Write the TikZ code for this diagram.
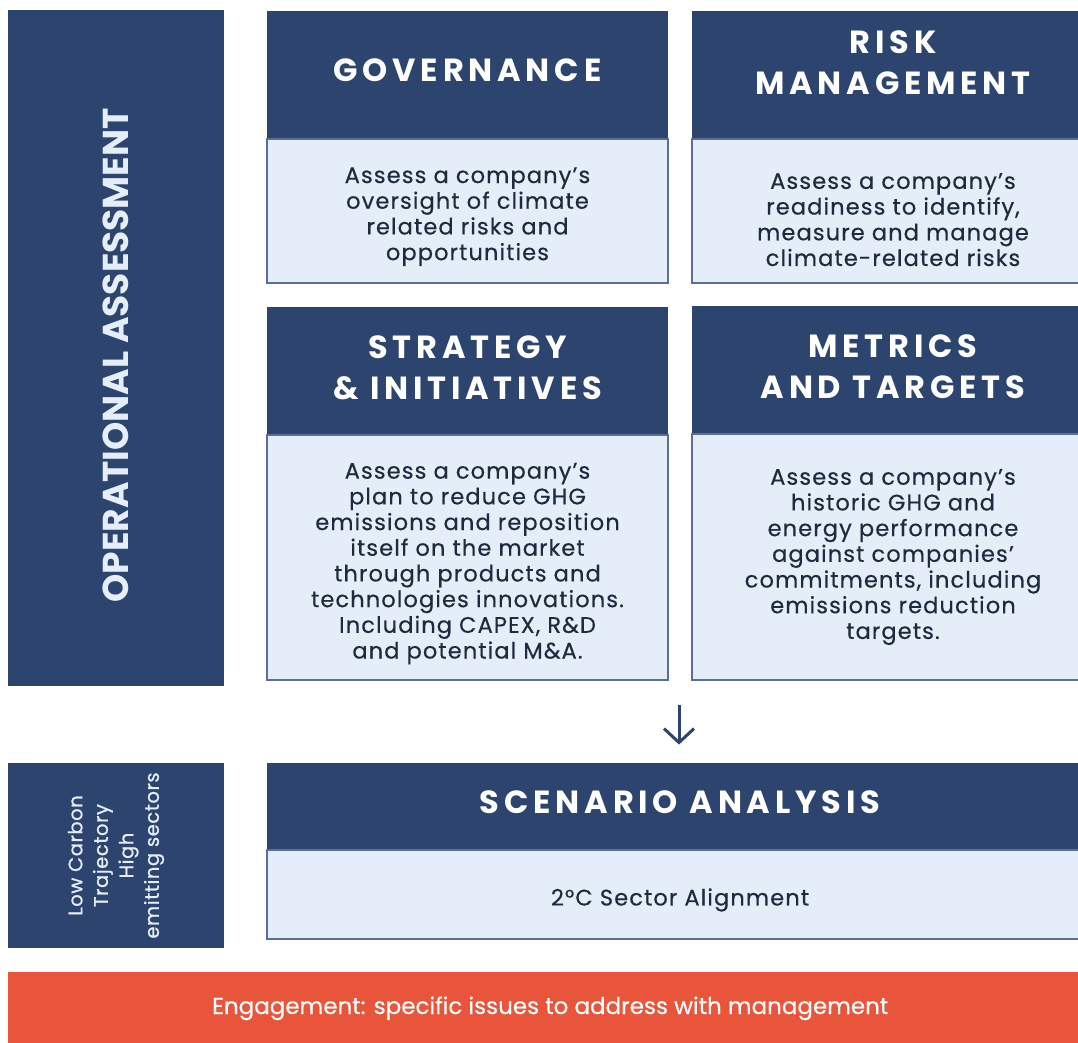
\documentclass[tikz,border=0pt]{standalone}
\usepackage{fontspec}
\setmainfont{Poppins}
\newfontfamily\headfont[LetterSpace=15]{Poppins}
\newfontfamily\sidefont[LetterSpace=3,FakeBold=0.8]{Poppins}
\newfontfamily\bodyfont[LetterSpace=5,FakeBold=0.4]{Poppins}
\newfontfamily\barfont[FakeBold=0.4]{Poppins}
\usetikzlibrary{positioning,arrows.meta}

\definecolor{navy}{HTML}{2C446E}
\definecolor{paleblue}{HTML}{E5EDF8}
\definecolor{edgeblue}{HTML}{5B6F97}
\definecolor{inkblue}{HTML}{1C2B3F}
\definecolor{flame}{HTML}{E8553B}

\tikzset{
  head/.style={fill=navy, text=white, inner sep=0pt, align=center,
    minimum width=#1, minimum height=127pt,
    font=\headfont\bfseries\fontsize{32}{41}\selectfont},
  head/.default=401pt,
  bodybox/.style={fill=paleblue, draw=edgeblue, line width=2pt, text=inkblue,
    inner sep=0pt, align=center, anchor=north west,
    font=\bodyfont\fontsize{22.5}{25.7}\selectfont},
  sidebar/.style={fill=navy, text=paleblue, inner sep=0pt, align=center, rotate=90},
  flow/.style={draw=navy, line width=3pt, -{Straight Barb[length=14pt,width=30pt]}},
}
\newcommand{\lift}[1]{\rule[-#1]{0pt}{0pt}}
\newcommand{\drop}[1]{\rule{0pt}{#1}}

\begin{document}
\begin{tikzpicture}[x=1pt,y=-1pt]
\useasboundingbox (0,0) rectangle (1078,1042);

% left column
\node[sidebar, minimum width=676pt, minimum height=216pt,
  font=\bfseries\fontsize{36}{40}\selectfont] (opcol) at (116,348)
  {\hspace*{-15pt}OPERATIONAL ASSESSMENT};

% top row
\node[bodybox, minimum width=401pt, minimum height=144pt] (govbody) at (266,138)
  {\drop{27pt}Assess a company’s\\oversight of climate\\related risks and\\opportunities};
\node[head, above=0pt of govbody] (govhead) {GOVERNANCE\lift{8pt}};

\node[bodybox, minimum width=402pt, minimum height=144pt] (riskbody) at (691,138)
  {\drop{33pt}Assess a company’s\\readiness to identify,\\measure and manage\\climate-related risks};
\node[head=402pt, above=0pt of riskbody] (riskhead) {RISK\\MANAGEMENT\lift{24pt}};

% bottom row
\node[bodybox, minimum width=401pt, minimum height=245pt] (stratbody) at (266,434)
  {\drop{28pt}Assess a company’s\\plan to reduce GHG\\emissions and reposition\\itself on the market\\through products and\\technologies innovations.\\Including CAPEX, R\&D\\and potential M\&A.};
\node[head, above=0pt of stratbody] (strathead) {STRATEGY\\\&\ INITIATIVES\lift{6pt}};

\node[bodybox, minimum width=402pt, minimum height=246pt] (metbody) at (691,433)
  {Assess a company’s\\historic GHG and\\energy performance\\against companies’\\commitments, including\\emissions reduction\\targets.};
\node[head=402pt, above=0pt of metbody] (methead) {METRICS\\AND TARGETS\lift{6pt}};

% scenario analysis
\node[sidebar, minimum width=185pt, minimum height=216pt,
  font=\sidefont\fontsize{19.5}{25.5}\selectfont] (lowcarb) at (116,855.5)
  {Low Carbon\\Trajectory\\High\\emitting sectors};

\node[bodybox, minimum width=826pt, minimum height=89pt] (scenbody) at (266,849)
  {\drop{28pt}2°C Sector Alignment};
\node[head=826pt, minimum height=86pt, above=0pt of scenbody] (scenhead) {SCENARIO ANALYSIS\lift{8pt}};

\coordinate (arrtop) at (679,705);
\draw[flow, shorten >=18pt] (arrtop) -- (scenhead.north -| arrtop);

% engagement bar
\node[fill=flame, text=white, inner sep=0pt, anchor=north west,
  minimum width=1084pt, minimum height=80pt,
  font=\barfont\fontsize{23}{25}\selectfont] (engage) at (8,972)
  {Engagement: specific issues to address with management\lift{14pt}};
\end{tikzpicture}
\end{document}
